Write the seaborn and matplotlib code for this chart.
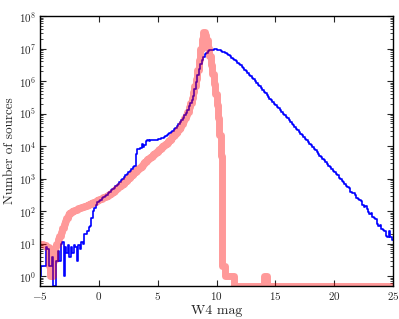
import numpy as np
import pandas as pd
import matplotlib
matplotlib.use('Agg')
import matplotlib.pyplot as plt
import seaborn as sns

# histogram bins in W4 mag, 0.125 mag wide (-5 .. 25)
mag_edges = np.arange(-5.0, 25.0 + 0.0625, 0.125)

# log10(number of sources) per bin, one row per magnitude; nan = empty bin
blue_log_n = [
    0.0, 0.3, 0.3, 0.3, 0.9, 0.85, 0.3, 0.3,           # -5
    0.6, np.nan, np.nan, 0.48, 0.78, 0.48, 1.0, 1.04,  # -4
    0.0, 0.9, 0.7, 0.95, 0.6, 0.9, 0.7, 0.95,          # -3
    0.9, 0.48, 0.95, 0.85, 1.04, 1.0, 1.3, 1.3,        # -2
    1.4, 1.5, 1.55, 1.8, 2.0, 2.1, 2.2, 2.27,          # -1
    2.31, 2.35, 2.39, 2.43, 2.47, 2.51, 2.55, 2.6,     # 0
    2.64, 2.68, 2.72, 2.76, 2.8, 2.85, 2.9, 2.95,      # 1
    3.0, 3.05, 3.1, 3.15, 3.2, 3.25, 3.3, 3.36,        # 2
    3.4, 3.75, 3.9, 3.9, 3.95, 4.05, 3.98, 4.02,       # 3
    4.15, 4.18, 4.17, 4.18, 4.19, 4.2, 4.2, 4.2,       # 4
    4.21, 4.22, 4.24, 4.26, 4.28, 4.3, 4.33, 4.36,     # 5
    4.4, 4.44, 4.48, 4.52, 4.57, 4.62, 4.67, 4.73,     # 6
    4.8, 4.87, 4.95, 5.03, 5.12, 5.22, 5.32, 5.43,     # 7
    5.55, 5.75, 5.98, 6.2, 6.38, 6.53, 6.65, 6.75,     # 8
    6.82, 6.87, 6.91, 6.94, 6.96, 6.97, 6.98, 6.98,    # 9
    6.97, 6.96, 6.94, 6.92, 6.9, 6.88, 6.85, 6.82,     # 10
    6.79, 6.76, 6.72, 6.69, 6.65, 6.61, 6.57, 6.53,    # 11
    6.48, 6.44, 6.39, 6.34, 6.3, 6.25, 6.2, 6.15,      # 12
    6.1, 6.05, 6.0, 5.94, 5.89, 5.84, 5.78, 5.73,      # 13
    5.67, 5.62, 5.57, 5.52, 5.46, 5.41, 5.36, 5.31,    # 14
    5.26, 5.21, 5.16, 5.1, 5.05, 5.0, 4.95, 4.9,       # 15
    4.85, 4.79, 4.74, 4.69, 4.64, 4.59, 4.54, 4.49,    # 16
    4.44, 4.38, 4.33, 4.28, 4.23, 4.18, 4.13, 4.07,    # 17
    4.02, 3.97, 3.92, 3.87, 3.82, 3.76, 3.71, 3.66,    # 18
    3.61, 3.56, 3.51, 3.45, 3.4, 3.35, 3.3, 3.25,      # 19
    3.2, 3.14, 3.1, 3.03, 2.98, 2.94, 2.9, 2.82,       # 20
    2.78, 2.74, 2.7, 2.6, 2.57, 2.55, 2.5, 2.4,        # 21
    2.37, 2.33, 2.3, 2.2, 2.12, 2.15, 2.08, 1.98,      # 22
    1.9, 1.93, 1.82, 1.78, 1.75, 1.62, 1.55, 1.58,     # 23
    1.45, 1.42, 1.4, 1.25, 1.22, 1.38, 1.2, 1.1,       # 24
]

pink_log_n = [
    1.0, 1.0, 0.95, 0.95, 0.9, 0.9, 0.3, 0.0,          # -5
    0.0, 0.5, 0.9, 1.0, 1.15, 1.25, 1.35, 1.48,        # -4
    1.6, 1.7, 1.8, 1.88, 1.93, 1.97, 2.0, 2.03,        # -3
    2.05, 2.07, 2.09, 2.11, 2.13, 2.14, 2.15, 2.17,    # -2
    2.19, 2.21, 2.23, 2.25, 2.27, 2.29, 2.31, 2.34,    # -1
    2.36, 2.38, 2.4, 2.43, 2.45, 2.48, 2.51, 2.54,     # 0
    2.57, 2.6, 2.63, 2.67, 2.71, 2.74, 2.78, 2.81,     # 1
    2.85, 2.9, 2.94, 2.98, 3.03, 3.07, 3.12, 3.16,     # 2
    3.2, 3.24, 3.29, 3.33, 3.37, 3.42, 3.46, 3.5,      # 3
    3.55, 3.59, 3.63, 3.67, 3.71, 3.75, 3.79, 3.83,    # 4
    3.87, 3.91, 3.95, 3.99, 4.03, 4.07, 4.11, 4.15,    # 5
    4.2, 4.25, 4.3, 4.35, 4.41, 4.47, 4.53, 4.6,       # 6
    4.68, 4.76, 4.85, 4.95, 5.06, 5.19, 5.33, 5.48,    # 7
    5.65, 5.85, 6.07, 6.35, 6.65, 6.98, 7.3, 7.52,     # 8
    7.42, 7.25, 7.02, 6.78, 6.5, 6.22, 5.92, 5.6,      # 9
    5.25, 4.85, 4.35, 3.7, 0.3, 0.3, 0.0, 0.0,         # 10
    0.0, 0.0, 0.0, 0.0] + [np.nan] * 20 + [            # 11 - 13
    0.0, 0.0] + [np.nan] * 86                          # 14 - 24

y_floor = 0.5  # empty bins are drawn along the bottom of the axes


def step_frame(log_n):
    n = np.power(10.0, np.asarray(log_n, dtype=float))
    n = np.where(np.isnan(n), y_floor, n)
    return pd.DataFrame({'mag': mag_edges, 'n': np.append(n, n[-1])})


sns.set_style('ticks', {'xtick.direction': 'in', 'ytick.direction': 'in',
                        'xtick.top': True, 'ytick.right': True,
                        'axes.edgecolor': 'black'})
plt.rcParams['font.family'] = 'serif'
plt.rcParams['font.serif'] = ['cmr10', 'DejaVu Serif']
plt.rcParams['mathtext.fontset'] = 'cm'
plt.rcParams['axes.formatter.use_mathtext'] = True

fig = plt.figure(figsize=(3.99, 3.19), dpi=100)
ax = fig.add_axes([0.1003, 0.1034, 0.8847, 0.8464])

sns.lineplot(data=step_frame(blue_log_n), x='mag', y='n', drawstyle='steps-post',
             color='blue', lw=1.2, estimator=None, ax=ax)
sns.lineplot(data=step_frame(pink_log_n), x='mag', y='n', drawstyle='steps-post',
             color='red', alpha=0.4, lw=5, estimator=None, ax=ax)

ax.set_yscale('log')
ax.set_xlim(-5, 25)
ax.set_ylim(0.5, 1e8)
ax.set_xticks([-5, 0, 5, 10, 15, 20, 25])
ax.set_xlabel('W4 mag', fontsize=10, labelpad=2)
ax.set_ylabel('Number of sources', fontsize=9.5, labelpad=2)
ax.tick_params(which='major', length=4, width=0.8, labelsize=8, pad=3)
ax.tick_params(which='minor', length=2, width=0.6)
for s in ax.spines.values():
    s.set_linewidth(1.0)

fig.savefig('out.png', dpi=100)
